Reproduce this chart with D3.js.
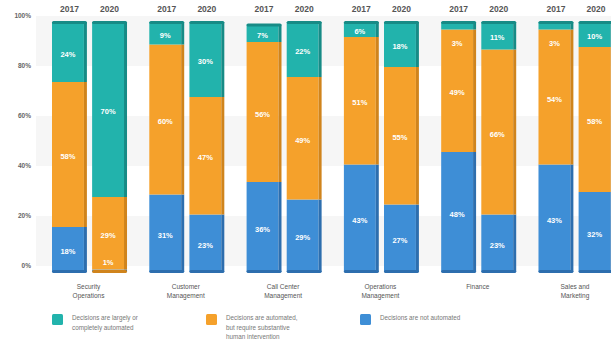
<!DOCTYPE html>
<html>
<head>
<meta charset="utf-8">
<script src="https://cdn.jsdelivr.net/npm/d3@7"></script>
<style>
  body { margin: 0; background: #fff; }
  svg { display: block; font-family: "Liberation Sans", Arial, sans-serif; }
</style>
</head>
<body>
<div id="chart"></div>
<script>
const categories = ['Security Operations', 'Customer Management', 'Call Center Management',
  'Operations Management', 'Finance', 'Sales and Marketing'];
const categoryLines = [['Security', 'Operations'], ['Customer', 'Management'], ['Call Center', 'Management'],
  ['Operations', 'Management'], ['Finance'], ['Sales and', 'Marketing']];
const years = ['2017', '2020'];

// [2017, 2020] per category
const notAutomated = [[18, 1], [31, 23], [36, 29], [43, 27], [48, 23], [43, 32]];
const partlyAutomated = [[58, 29], [60, 47], [56, 49], [51, 55], [49, 66], [54, 58]];
const fullyAutomated = [[24, 70], [9, 30], [7, 22], [6, 18], [3, 11], [3, 10]];

const yTicks = [0, 20, 40, 60, 80, 100];
const legendItems = [
  ['Decisions are largely or', 'completely automated'],
  ['Decisions are automated,', 'but require substantive', 'human intervention'],
  ['Decisions are not automated']
];

const W = 611, H = 349;
const colors = ['#3e8ed6', '#f5a12b', '#22b3ac'];
const sideColors = ['#2d6eae', '#d0841c', '#178b86'];

const svg = d3.select('#chart').append('svg').attr('width', W).attr('height', H);

const x0 = d3.scaleBand().domain(categories).range([52, 613.5]).paddingInner(0.229).paddingOuter(0);
const x1 = d3.scaleBand().domain(years).range([0, x0.bandwidth()]).paddingInner(0.13);
const y = d3.scaleLinear().domain([0, 100]).range([272, 22]);

// light bands
const bands = [[80, 100], [40, 60], [0, 20]];
svg.selectAll('rect.band').data(bands).enter().append('rect')
  .attr('x', 36).attr('width', W - 36)
  .attr('y', d => y(d[1]) - 6).attr('height', d => y(d[0]) - y(d[1]))
  .attr('fill', '#f6f6f6');

// y tick labels
svg.selectAll('text.ytick').data(yTicks).enter().append('text')
  .attr('x', 31).attr('y', d => y(d) - 6).attr('dy', '0.35em')
  .attr('text-anchor', 'end').attr('font-size', 6.5).attr('font-weight', 'bold')
  .attr('fill', '#666').text(d => d + '%');

// stack data
const bars = [];
categories.forEach((c, i) => {
  years.forEach((yr, j) => {
    const vals = [notAutomated[i][j], partlyAutomated[i][j], fullyAutomated[i][j]];
    let acc = 0;
    const segs = vals.map((v, k) => {
      const s = {k: k, v: v, y0: acc, y1: acc + v};
      acc += v;
      return s;
    });
    bars.push({c: c, yr: yr, segs: segs, total: acc});
  });
});

const bw = x1.bandwidth();
const side = 3;

const g = svg.selectAll('g.bar').data(bars).enter().append('g')
  .attr('transform', d => `translate(${x0(d.c) + x1(d.yr)},0)`);

// front faces
g.selectAll('rect.seg').data(d => d.segs).enter().append('rect')
  .attr('x', 0).attr('width', bw - side)
  .attr('y', s => y(s.y1)).attr('height', s => y(s.y0) - y(s.y1))
  .attr('fill', s => colors[s.k]);

// right side faces
g.selectAll('rect.side').data(d => d.segs).enter().append('rect')
  .attr('x', bw - side).attr('width', side)
  .attr('y', s => y(s.y1)).attr('height', s => y(s.y0) - y(s.y1))
  .attr('fill', s => sideColors[s.k]);

// top cap and bottom edge
g.append('rect').attr('x', 0).attr('width', bw).attr('y', d => y(d.total) - 1).attr('height', 3)
  .attr('rx', 1.5).attr('fill', d => sideColors[d.segs[2].v > 0 ? 2 : 1]);
g.append('rect').attr('x', 0).attr('width', bw).attr('y', y(0) - 2).attr('height', 3)
  .attr('rx', 1.5).attr('fill', d => sideColors[d.segs[0].v > 2 ? 0 : 1]);

// value labels
g.selectAll('text.val').data(d => d.segs).enter().append('text')
  .attr('x', (bw - side) / 2)
  .attr('y', s => {
    const hpx = y(s.y0) - y(s.y1);
    if (hpx < 12 && s.k === 2) return y(s.y1) + 21;
    if (hpx < 12 && s.k === 0) return y(s.y0) - 10;
    return (y(s.y0) + y(s.y1)) / 2 + 2;
  })
  .attr('dy', '0.35em').attr('text-anchor', 'middle')
  .attr('font-size', 7.5).attr('font-weight', 'bold').attr('fill', '#fff')
  .text(s => s.v + '%');

// year labels
g.append('text').attr('x', bw / 2).attr('y', 12).attr('text-anchor', 'middle')
  .attr('font-size', 8.5).attr('font-weight', 'bold').attr('fill', '#555')
  .text(d => d.yr);

// category labels
const cl = svg.selectAll('text.cat').data(categories).enter().append('text')
  .attr('x', d => x0(d) + x0.bandwidth() / 2 - 1).attr('y', 289)
  .attr('text-anchor', 'middle').attr('font-size', 6.5).attr('fill', '#555');
cl.selectAll('tspan').data((d, i) => categoryLines[i]).enter().append('tspan')
  .attr('x', function() { return d3.select(this.parentNode).attr('x'); })
  .attr('dy', (d, i) => i === 0 ? 0 : 9)
  .text(d => d);

// legend
const legendX = [52, 206, 360];
const lg = svg.selectAll('g.legend').data(legendItems).enter().append('g')
  .attr('transform', (d, i) => `translate(${legendX[i]},314)`);
lg.append('rect').attr('width', 11).attr('height', 11).attr('rx', 1.5)
  .attr('fill', (d, i) => colors[2 - i]);
lg.append('text').attr('x', 20).attr('y', 6).attr('font-size', 6.3).attr('fill', '#777')
  .selectAll('tspan').data(d => d).enter().append('tspan')
  .attr('x', 20).attr('dy', (d, i) => i === 0 ? 0 : 9.5)
  .text(d => d);
</script>
</body>
</html>
